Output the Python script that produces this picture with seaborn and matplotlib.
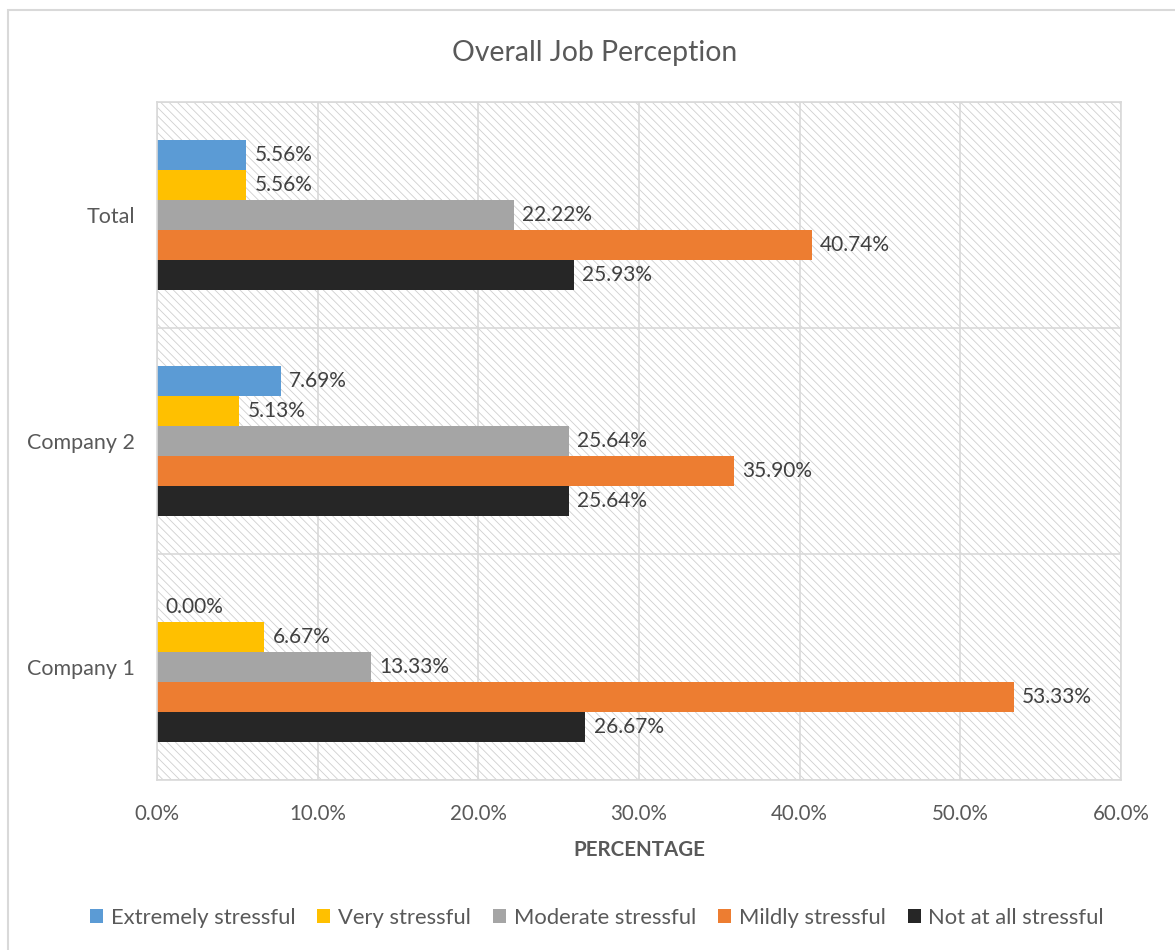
import matplotlib
matplotlib.use("Agg")
import matplotlib.pyplot as plt
from matplotlib.patches import Rectangle
from matplotlib.ticker import FuncFormatter
import seaborn as sns
import pandas as pd

# Survey results (percent of respondents)
groups = ["Total", "Company 2", "Company 1"]
levels = ["Extremely stressful", "Very stressful", "Moderate stressful",
          "Mildly stressful", "Not at all stressful"]
total = [5.56, 5.56, 22.22, 40.74, 25.93]
company2 = [7.69, 5.13, 25.64, 35.90, 25.64]
company1 = [0.00, 6.67, 13.33, 53.33, 26.67]
colors = ["#5B9BD5", "#FFC000", "#A5A5A5", "#ED7D31", "#262626"]
x_ticks = [0, 10, 20, 30, 40, 50, 60]

rows = []
for g, vals in zip(groups, [total, company2, company1]):
    for lvl, v in zip(levels, vals):
        rows.append({"group": g, "level": lvl, "pct": v})
df = pd.DataFrame(rows)

sns.set_theme(style="white")
plt.rcParams["font.family"] = ["Lato", "DejaVu Sans"]
plt.rcParams["hatch.linewidth"] = 0.6

TXT = "#595959"
GRID = "#D9D9D9"

fig = plt.figure(figsize=(11.75, 9.5), dpi=100)
ax = fig.add_axes([157 / 1175, 1 - 780 / 950, (1121 - 157) / 1175, (780 - 102) / 950])

# chart frame
fig.patches.append(Rectangle((8 / 1175, -0.05), 1.2, 1 - 10 / 950 + 0.05,
                             transform=fig.transFigure, fill=False,
                             edgecolor=GRID, lw=1.5, zorder=0))

# hatched plot area
ax.add_patch(Rectangle((0, 0), 1, 1, transform=ax.transAxes, facecolor="white",
                       edgecolor="#CFCFCF", hatch="\\\\\\\\", lw=0, zorder=0))

sns.barplot(data=df, x="pct", y="group", hue="level", order=groups,
            hue_order=levels, palette=colors, orient="h", width=0.668,
            saturation=1, linewidth=0, ax=ax, zorder=2)

for cont in ax.containers:
    ax.bar_label(cont, fmt="%.2f%%", padding=6, fontsize=15, color="#404040")

ax.set_xlim(0, 60)
ax.set_xticks(x_ticks)
ax.xaxis.set_major_formatter(FuncFormatter(lambda v, p: f"{v:.1f}%"))
ax.set_axisbelow(True)
ax.grid(axis="x", color=GRID, lw=1.2)
ax.set_yticks([-0.5, 0.5, 1.5, 2.5], minor=True)
ax.grid(axis="y", which="minor", color=GRID, lw=1.2)
ax.grid(axis="y", which="major", visible=False)

for s in ax.spines.values():
    s.set_color(GRID)
    s.set_linewidth(1.2)

ax.tick_params(axis="x", length=0, pad=17, labelsize=14.8, labelcolor=TXT)
ax.tick_params(axis="y", which="major", length=0, pad=16, labelsize=15.5, labelcolor=TXT)
ax.tick_params(axis="y", which="minor", length=5, color=GRID, width=1.2)

ax.set_ylabel("")
ax.set_xlabel("PERCENTAGE", fontsize=14.8, fontweight="bold", color=TXT, labelpad=12)

fig.text(595 / 1175, 1 - 53 / 950, "Overall Job Perception", ha="center", va="center",
         fontsize=20.4, color=TXT)

sns.move_legend(ax, "center", bbox_to_anchor=(0.508, 1 - 918 / 950),
                bbox_transform=fig.transFigure, ncol=5, frameon=False, title=None,
                fontsize=15.8, handlelength=0.6, handleheight=0.6,
                handletextpad=0.35, columnspacing=1.0, labelcolor=TXT)

fig.savefig("out.png", dpi=100)
